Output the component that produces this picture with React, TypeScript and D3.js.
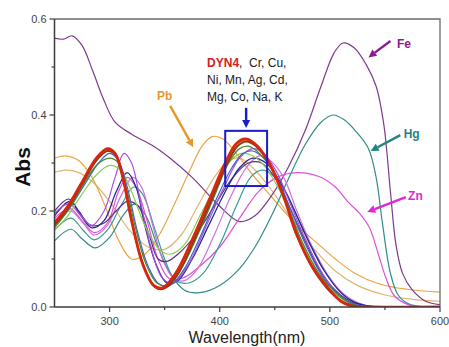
import React, { useEffect, useRef } from "react";
import * as d3 from "d3";

const width = 449;
const height = 347;

// wavelength / absorbance pairs
const dyn4 = [[250,0.175],[262,0.21],[275,0.26],[288,0.31],[298,0.33],[305,0.32],[312,0.27],[320,0.18],[330,0.09],[340,0.045],[348,0.04],[360,0.07],[375,0.14],[390,0.22],[405,0.3],[415,0.34],[423,0.35],[432,0.34],[445,0.3],[458,0.23],[470,0.15],[485,0.08],[500,0.035],[510,0.012],[520,0.002],[540,0],[600,0]];
const brown = [[250,0.17],[262,0.205],[275,0.255],[288,0.305],[298,0.325],[306,0.315],[313,0.26],[321,0.17],[331,0.085],[341,0.042],[349,0.038],[361,0.065],[376,0.135],[391,0.215],[406,0.295],[416,0.335],[424,0.345],[433,0.335],[446,0.295],[459,0.225],[471,0.145],[486,0.075],[501,0.03],[512,0.01],[522,0.002],[540,0],[600,0]];
const olive = [[250,0.165],[262,0.2],[275,0.25],[288,0.295],[300,0.31],[308,0.3],[315,0.25],[323,0.17],[333,0.09],[343,0.05],[352,0.045],[365,0.08],[380,0.15],[395,0.23],[408,0.3],[418,0.33],[426,0.335],[436,0.32],[449,0.28],[462,0.21],[474,0.14],[490,0.07],[505,0.03],[518,0.008],[530,0],[600,0]];
const lightGreen = [[250,0.16],[262,0.19],[275,0.235],[288,0.275],[300,0.295],[310,0.285],[320,0.24],[332,0.17],[345,0.12],[355,0.11],[368,0.13],[382,0.19],[398,0.26],[410,0.305],[420,0.32],[430,0.315],[442,0.29],[455,0.24],[468,0.17],[482,0.1],[497,0.045],[512,0.015],[525,0.003],[540,0],[600,0]];
const navy = [[250,0.19],[264,0.22],[274,0.19],[284,0.165],[295,0.18],[306,0.24],[316,0.28],[324,0.25],[332,0.17],[342,0.09],[352,0.05],[362,0.055],[375,0.1],[390,0.17],[405,0.24],[418,0.29],[430,0.31],[442,0.3],[455,0.26],[468,0.2],[480,0.14],[495,0.075],[510,0.03],[522,0.01],[535,0.002],[550,0],[600,0]];
const violet = [[250,0.195],[263,0.215],[274,0.19],[284,0.17],[295,0.2],[305,0.27],[313,0.32],[320,0.3],[328,0.22],[338,0.12],[348,0.06],[358,0.05],[372,0.09],[388,0.17],[404,0.25],[418,0.31],[430,0.33],[440,0.32],[452,0.28],[465,0.21],[478,0.14],[492,0.075],[506,0.03],[520,0.008],[535,0],[600,0]];
const pink = [[250,0.18],[264,0.2],[276,0.175],[286,0.15],[298,0.17],[310,0.23],[321,0.27],[329,0.25],[338,0.18],[348,0.1],[358,0.06],[368,0.055],[380,0.08],[395,0.15],[410,0.23],[424,0.29],[436,0.315],[446,0.305],[458,0.27],[470,0.2],[483,0.13],[497,0.07],[512,0.028],[526,0.008],[540,0],[600,0]];
const teal = [[250,0.16],[265,0.185],[276,0.16],[286,0.14],[298,0.16],[310,0.21],[322,0.25],[330,0.235],[340,0.17],[350,0.1],[360,0.055],[372,0.05],[385,0.07],[400,0.13],[415,0.21],[428,0.27],[438,0.285],[448,0.275],[460,0.24],[472,0.18],[485,0.12],[500,0.06],[515,0.02],[530,0.004],[545,0],[600,0]];
const plum = [[250,0.2],[263,0.225],[272,0.2],[283,0.17],[295,0.175],[306,0.2],[316,0.22],[326,0.21],[336,0.15],[344,0.1],[352,0.095],[362,0.11],[378,0.15],[395,0.21],[412,0.27],[426,0.3],[438,0.3],[450,0.27],[463,0.21],[476,0.145],[490,0.08],[505,0.035],[520,0.01],[535,0.002],[550,0],[600,0]];
const blue = [[250,0.17],[262,0.2],[276,0.25],[290,0.3],[300,0.32],[308,0.305],[316,0.25],[325,0.16],[335,0.085],[345,0.048],[355,0.045],[368,0.08],[383,0.15],[398,0.23],[411,0.29],[421,0.32],[430,0.325],[440,0.31],[452,0.27],[465,0.2],[478,0.13],[493,0.065],[508,0.025],[522,0.006],[535,0],[600,0]];
const pb = [[250,0.31],[260,0.315],[272,0.305],[284,0.27],[296,0.21],[308,0.14],[320,0.1],[332,0.11],[345,0.15],[358,0.21],[372,0.28],[384,0.335],[393,0.355],[403,0.35],[415,0.32],[430,0.275],[445,0.235],[460,0.195],[475,0.16],[490,0.13],[505,0.1],[523,0.07],[545,0.048],[570,0.037],[600,0.031]];
const tan = [[250,0.28],[260,0.285],[272,0.28],[285,0.26],[300,0.22],[318,0.16],[335,0.125],[350,0.12],[365,0.15],[380,0.21],[395,0.27],[408,0.305],[418,0.31],[430,0.29],[445,0.25],[460,0.2],[475,0.15],[490,0.11],[505,0.075],[525,0.045],[550,0.025],[575,0.016],[600,0.012]];
const fe = [[250,0.56],[258,0.558],[266,0.565],[275,0.545],[285,0.49],[295,0.43],[305,0.385],[320,0.36],[340,0.335],[355,0.31],[375,0.27],[400,0.21],[418,0.178],[432,0.19],[448,0.235],[462,0.29],[478,0.37],[492,0.46],[504,0.53],[512,0.55],[522,0.54],[533,0.505],[542,0.46],[549,0.38],[555,0.24],[560,0.13],[566,0.07],[575,0.035],[587,0.012],[600,0.005]];
const hg = [[250,0.138],[265,0.162],[275,0.142],[287,0.123],[300,0.145],[312,0.19],[323,0.215],[333,0.19],[343,0.13],[355,0.07],[368,0.035],[382,0.03],[400,0.045],[418,0.08],[432,0.125],[447,0.19],[462,0.265],[478,0.34],[492,0.385],[503,0.4],[513,0.39],[524,0.365],[535,0.33],[542,0.27],[548,0.17],[555,0.07],[562,0.025],[572,0.006],[600,0]];
const zn = [[250,0.185],[264,0.205],[275,0.18],[286,0.155],[298,0.175],[308,0.24],[316,0.27],[324,0.25],[334,0.18],[344,0.1],[354,0.06],[366,0.06],[382,0.085],[400,0.125],[418,0.185],[435,0.24],[452,0.27],[470,0.28],[490,0.272],[505,0.25],[516,0.22],[527,0.195],[536,0.165],[544,0.11],[551,0.06],[558,0.025],[568,0.008],[580,0],[600,0]];

const series = [
  { data: tan, color: "#dcb673", w: 1.2 },
  { data: pb, color: "#eaa545", w: 1.2 },
  { data: fe, color: "#7e3a8c", w: 1.2 },
  { data: hg, color: "#2f8c86", w: 1.2 },
  { data: zn, color: "#e050d8", w: 1.2 },
  { data: teal, color: "#3a9a96", w: 1.2 },
  { data: pink, color: "#d070dc", w: 1.2 },
  { data: plum, color: "#5c3088", w: 1.2 },
  { data: navy, color: "#28288e", w: 1.3 },
  { data: violet, color: "#a84ee0", w: 1.2 },
  { data: lightGreen, color: "#8ccc52", w: 1.2 },
  { data: blue, color: "#3f62c8", w: 1.2 },
  { data: olive, color: "#4f8a30", w: 1.3 },
  { data: brown, color: "#8a3c12", w: 2 },
  { data: dyn4, color: "#d8260e", w: 2.8 },
];

const xMajor = [300, 400, 500, 600];
const xMinor = [350, 450, 550];
const yMajor = [0, 0.2, 0.4, 0.6];
const yMinor = [0.1, 0.3, 0.5];

// metal labels: text anchor and arrow tail/head in data units
const labels = [
  { text: "Fe", color: "#8b1c8e", at: [561, 0.54], from: [555, 0.554], to: [535, 0.52] },
  { text: "Hg", color: "#1f8580", at: [567, 0.352], from: [564, 0.358], to: [537, 0.325] },
  { text: "Zn", color: "#e226d6", at: [571, 0.223], from: [569, 0.229], to: [534, 0.198] },
  { text: "Pb", color: "#e8962a", at: [343, 0.431], from: [355, 0.419], to: [376, 0.333] },
];
const noteLines = ["Cr, Cu,", "Ni, Mn, Ag, Cd,", "Mg, Co, Na, K"];
const notePos = [388.5, 0.5];
const noteBox = [405, 443, 0.252, 0.367];
const noteArrow = [[424, 0.415], [424, 0.373]];

export default function App() {
  const svgRef = useRef(null);

  useEffect(() => {
    const svg = d3.select(svgRef.current);
    svg.selectAll("*").remove();

    const x = d3.scaleLinear().domain([250, 600]).range([54.5, 440]);
    const y = d3.scaleLinear().domain([0, 0.6]).range([307, 19]);

    svg.append("clipPath").attr("id", "plot").append("rect")
      .attr("x", x(250)).attr("y", y(0.6))
      .attr("width", x(600) - x(250)).attr("height", y(0) - y(0.6));

    const line = d3.line()
      .x((d) => x(d[0]))
      .y((d) => y(d[1]))
      .curve(d3.curveCatmullRom.alpha(0.5));

    const g = svg.append("g").attr("clip-path", "url(#plot)");
    series.forEach((s) => {
      g.append("path")
        .attr("d", line(s.data))
        .attr("fill", "none")
        .attr("stroke", s.color)
        .attr("stroke-width", s.w)
        .attr("stroke-linejoin", "round");
    });

    // frame
    svg.append("path")
      .attr("d", `M${x(250)},${y(0.6)}H${x(600)}V${y(0)}`)
      .attr("fill", "none").attr("stroke", "#6a6a6a").attr("stroke-width", 1.3);

    const axisColor = "#3c3c3c";
    const ax = svg.append("g");
    ax.append("line")
      .attr("x1", x(250)).attr("x2", x(250)).attr("y1", y(0.6)).attr("y2", y(0))
      .attr("stroke", axisColor).attr("stroke-width", 1.5);
    ax.append("line")
      .attr("x1", x(250)).attr("x2", x(600)).attr("y1", y(0)).attr("y2", y(0))
      .attr("stroke", axisColor).attr("stroke-width", 1.5);

    xMajor.forEach((t) => {
      ax.append("line").attr("x1", x(t)).attr("x2", x(t)).attr("y1", y(0)).attr("y2", y(0) + 5)
        .attr("stroke", axisColor).attr("stroke-width", 1.2);
      ax.append("text").attr("x", x(t)).attr("y", y(0) + 18)
        .attr("text-anchor", "middle").attr("fill", "#444")
        .style("font-family", "Arial, 'Liberation Sans', sans-serif").style("font-size", "11px")
        .text(t);
    });
    xMinor.forEach((t) => {
      ax.append("line").attr("x1", x(t)).attr("x2", x(t)).attr("y1", y(0)).attr("y2", y(0) + 3)
        .attr("stroke", axisColor).attr("stroke-width", 1.2);
    });
    yMajor.forEach((t) => {
      ax.append("line").attr("x1", x(250) - 5).attr("x2", x(250)).attr("y1", y(t)).attr("y2", y(t))
        .attr("stroke", axisColor).attr("stroke-width", 1.2);
      ax.append("text").attr("x", x(250) - 8).attr("y", y(t) + 4)
        .attr("text-anchor", "end").attr("fill", "#444")
        .style("font-family", "Arial, 'Liberation Sans', sans-serif").style("font-size", "11px")
        .text(t.toFixed(1));
    });
    yMinor.forEach((t) => {
      ax.append("line").attr("x1", x(250) - 3).attr("x2", x(250)).attr("y1", y(t)).attr("y2", y(t))
        .attr("stroke", axisColor).attr("stroke-width", 1.2);
    });

    // axis titles
    svg.append("text")
      .attr("x", 247).attr("y", 343)
      .attr("text-anchor", "middle").attr("fill", "#222")
      .style("font-family", "Arial, 'Liberation Sans', sans-serif").style("font-size", "16px")
      .text("Wavelength(nm)");
    svg.append("text")
      .attr("transform", "translate(30,167) rotate(-90)")
      .attr("text-anchor", "middle").attr("fill", "#111")
      .style("font-family", "Arial, 'Liberation Sans', sans-serif").style("font-size", "21px")
      .style("font-weight", "bold")
      .text("Abs");

    const arrow = (from, to, color) => {
      const x1 = x(from[0]), y1 = y(from[1]), x2 = x(to[0]), y2 = y(to[1]);
      const a = Math.atan2(y2 - y1, x2 - x1);
      const hl = 8, hw = 4;
      const bx = x2 - hl * Math.cos(a), by = y2 - hl * Math.sin(a);
      svg.append("line").attr("x1", x1).attr("y1", y1).attr("x2", bx).attr("y2", by)
        .attr("stroke", color).attr("stroke-width", 2.4);
      const px = -Math.sin(a) * hw, py = Math.cos(a) * hw;
      svg.append("polygon")
        .attr("points", `${x2},${y2} ${bx + px},${by + py} ${bx - px},${by - py}`)
        .attr("fill", color);
    };

    labels.forEach((l) => {
      arrow(l.from, l.to, l.color);
      svg.append("text")
        .attr("x", x(l.at[0])).attr("y", y(l.at[1]))
        .attr("fill", l.color)
        .style("font-family", "Arial, 'Liberation Sans', sans-serif").style("font-size", "12px")
        .style("font-weight", "bold")
        .text(l.text);
    });

    // DYN4 note
    const note = svg.append("text")
      .style("font-family", "Arial, 'Liberation Sans', sans-serif").style("font-size", "12px")
      .attr("fill", "#1a1a1a");
    noteLines.forEach((t, i) => {
      const ts = note.append("tspan").attr("x", x(notePos[0])).attr("y", y(notePos[1]) + i * 17);
      if (i === 0) {
        ts.append("tspan").attr("fill", "#d42020").style("font-weight", "bold").text("DYN4");
        ts.append("tspan").text(",\u00a0 " + t);
      } else {
        ts.text(t);
      }
    });
    arrow(noteArrow[0], noteArrow[1], "#1a1ad0");
    svg.append("rect")
      .attr("x", x(noteBox[0])).attr("y", y(noteBox[3]))
      .attr("width", x(noteBox[1]) - x(noteBox[0]))
      .attr("height", y(noteBox[2]) - y(noteBox[3]))
      .attr("fill", "none").attr("stroke", "#1a1ad0").attr("stroke-width", 2);
  }, []);

  return (
    <div style={{ position: "fixed", left: 0, top: 0, background: "#fff" }}>
      <svg ref={svgRef} width={width} height={height} style={{ display: "block" }} />
    </div>
  );
}
